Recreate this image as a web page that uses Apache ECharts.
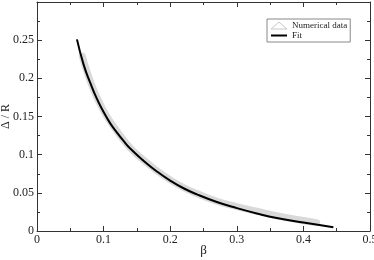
<!DOCTYPE html>
<html><head><meta charset="utf-8">
<script src="https://cdn.jsdelivr.net/npm/echarts@6/dist/echarts.min.js"></script>
<style>html,body{margin:0;padding:0;background:#fff}#c{width:374px;height:260px}</style>
</head><body><div id="c"></div>
<script>
// Numerical data (band of points)
const numBeta = [0.068,0.075,0.085,0.095,0.105,0.12,0.14,0.16,0.18,0.20,0.22,0.24,0.27,0.30,0.33,0.36,0.39,0.42];
const numVal  = [0.229,0.209,0.185,0.166,0.150,0.131,0.109,0.093,0.079,0.067,0.057,0.049,0.039,0.032,0.026,0.020,0.015,0.011];
// Fit curve
const fitBeta = [0.06,0.07,0.08,0.09,0.10,0.11,0.12,0.13,0.14,0.16,0.18,0.20,0.22,0.24,0.27,0.30,0.33,0.36,0.40,0.445];
const fitVal  = [0.251,0.218,0.194,0.173,0.156,0.141,0.129,0.118,0.108,0.092,0.078,0.066,0.056,0.048,0.038,0.030,0.023,0.017,0.011,0.005];
const xTicks = [0,0.1,0.2,0.3,0.4,0.5];
const yTicks = [0,0.05,0.1,0.15,0.2,0.25];

const font = 'Liberation Serif';
const axisCol = '#333';
const chart = echarts.init(document.getElementById('c'), null, {renderer:'canvas'});
const fmtX = v => { const s = xTicks.find(t => Math.abs(t - v) < 1e-9); return s === undefined ? '' : String(s); };
const fmtY = v => { const s = yTicks.find(t => Math.abs(t - v) < 1e-9); return s === undefined ? '' : String(s); };
const baseX = {
  type:'value', min:0, max:0.5, interval:0.1,
  axisLine:{show:true, onZero:false, lineStyle:{color:axisCol,width:1}},
  axisTick:{show:true, inside:true, length:5, lineStyle:{color:axisCol}},
  minorTick:{show:true, splitNumber:2, length:3, lineStyle:{color:axisCol}},
  splitLine:{show:false}
};
const baseY = {
  type:'value', min:0, max:0.3, interval:0.05,
  axisLine:{show:true, onZero:false, lineStyle:{color:axisCol,width:1}},
  axisTick:{show:true, inside:true, length:5, lineStyle:{color:axisCol}},
  minorTick:{show:true, splitNumber:2, length:3, lineStyle:{color:axisCol}},
  splitLine:{show:false}
};
chart.setOption({
  animation:false,
  backgroundColor:'#fff',
  grid:{left:37, right:4, top:2, bottom:29, containLabel:false, outerBoundsMode:'none'},
  legend:{
    orient:'vertical', left:267, top:19,
    borderColor:'#888', borderWidth:1, padding:[2,3,2,3], itemGap:1,
    itemWidth:16, itemHeight:7,
    textStyle:{fontFamily:font, fontSize:9, color:'#222'},
    data:[
      {name:'Numerical data', icon:'triangle', itemStyle:{color:'#fff', borderColor:'#c8c8c8', borderWidth:1}, lineStyle:{opacity:0}},
      {name:'Fit', itemStyle:{opacity:0}, lineStyle:{color:'#000', width:2}}
    ]
  },
  xAxis:[
    Object.assign({}, baseX, {position:'bottom',
      name:'β', nameLocation:'middle', nameGap:13, nameMoveOverlap:false,
      nameTextStyle:{fontFamily:font, fontSize:13, color:'#222'},
      axisLabel:{fontFamily:font, fontSize:12, color:'#222', margin:3, formatter:fmtX}}),
    Object.assign({}, baseX, {position:'top', axisLabel:{show:false}})
  ],
  yAxis:[
    Object.assign({}, baseY, {position:'left',
      name:'Δ / R', nameLocation:'middle', nameGap:25, nameRotate:90, nameMoveOverlap:false,
      nameTextStyle:{fontFamily:font, fontSize:12, color:'#222'},
      axisLabel:{fontFamily:font, fontSize:12, color:'#222', margin:3, formatter:fmtY}}),
    Object.assign({}, baseY, {position:'right', axisLabel:{show:false}})
  ],
  series:[
    {name:'Numerical data', type:'line', xAxisIndex:0, yAxisIndex:0,
     data:numBeta.map((b,i)=>[b,numVal[i]]), smooth:0.5, symbol:'none',
     lineStyle:{color:'#d9d9d9', width:7, cap:'round'}, itemStyle:{color:'#d9d9d9'}, z:1},
    {name:'Fit', type:'line', xAxisIndex:0, yAxisIndex:0,
     data:fitBeta.map((b,i)=>[b,fitVal[i]]), smooth:0.5, symbol:'none',
     lineStyle:{color:'#000', width:2}, itemStyle:{color:'#000'}, z:2}
  ]
});
</script></body></html>
